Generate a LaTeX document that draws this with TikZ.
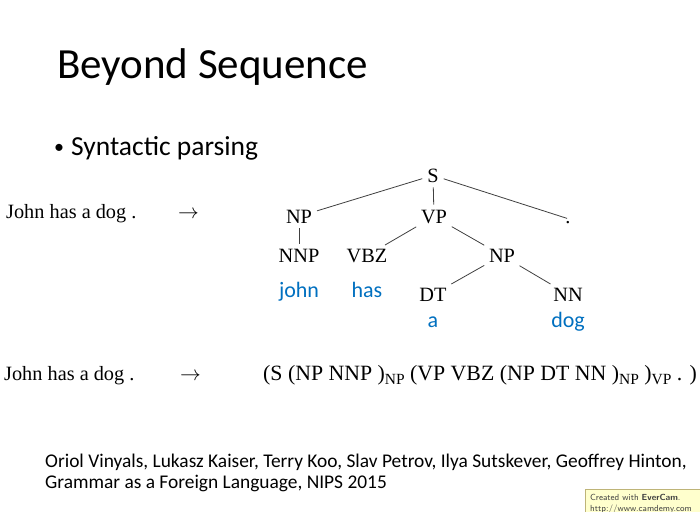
\documentclass[tikz,border=0pt]{standalone}
\usepackage{fontspec}
\setmainfont{Liberation Serif}
\newfontfamily\slidefont{Carlito}
\definecolor{wordblue}{RGB}{0,112,192}
\definecolor{notefill}{RGB}{255,255,205}
\definecolor{noteline}{RGB}{190,180,120}
\newcommand{\subtag}[1]{\raisebox{-0.22em}{\fontsize{15.5}{16}\selectfont #1}}
\begin{document}
\begin{tikzpicture}[x=1pt,y=-1pt,
  tag/.style={font=\fontsize{20.3}{22}\selectfont, anchor=base, inner sep=2pt},
  word/.style={font=\slidefont\fontsize{22}{24}\selectfont, text=wordblue, anchor=base, inner sep=1pt},
  edge/.style={draw=black!75, line width=0.8pt, shorten <=3pt, shorten >=3pt},
  serif/.style={font=\fontsize{20.3}{22}\selectfont, anchor=base west, inner sep=0pt},
  cite/.style={font=\slidefont\fontsize{19.4}{21}\selectfont, anchor=base west, inner sep=0pt}]
\useasboundingbox (0,0) rectangle (700,511);
\clip (0,0) rectangle (700,511);
\fill[white] (0,0) rectangle (700,511);
% title
\node[anchor=base west, inner sep=0pt, font=\slidefont\fontsize{43}{48}\selectfont] (title) at (57,78) {Beyond Sequence};
\node[anchor=base west, inner sep=0pt, font=\slidefont\fontsize{27.5}{30}\selectfont] (bullet) at (54,155) {{\fontsize{20}{22}\selectfont\raisebox{0.08em}{•}}\hspace{7pt}Syntactic parsing};
% first row
\node[serif] (in1) at (6,218) {John has a dog .};
\node[serif] (arr1) at (178,218) {$\rightarrow$};
% tree
\node[tag] (S) at (433,182) {S};
\node[tag] (NP) at (299,223) {NP};
\node[tag] (VP) at (434,223) {VP};
\node[tag] (dot) at (568,223) {.};
\node[tag] (NNP) at (299,262) {NNP};
\node[tag] (VBZ) at (367,262) {VBZ};
\node[tag] (NPb) at (502,262) {NP};
\node[tag] (DT) at (433,301) {DT};
\node[tag] (NN) at (568,301) {NN};
\node[word] (john) at (299,297) {john};
\node[word] (has) at (367,297) {has};
\node[word] (a) at (433,327) {a};
\node[word] (dog) at (568,327) {dog};
\draw[edge] (S) -- (NP);
\draw[edge] (S) -- (VP);
\draw[edge, shorten >=1pt] (S) -- (dot.north);
\draw[edge] (NP) -- (NNP);
\draw[edge] (VP) -- (VBZ);
\draw[edge] (VP) -- (NPb);
\draw[edge] (NPb) -- (DT);
\draw[edge] (NPb) -- (NN);
% second row
\node[serif] (in2) at (4,380) {John has a dog .};
\node[serif] (arr2) at (180,380) {$\rightarrow$};
\node[serif, font=\fontsize{21.8}{23}\selectfont] (seq) at (263,380) {(S (NP NNP )\subtag{NP} (VP VBZ (NP DT NN )\subtag{NP} )\subtag{VP} . )};
% citation
\node[cite] (cite1) at (45,467) {Oriol Vinyals, Lukasz Kaiser, Terry Koo, Slav Petrov, Ilya Sutskever, Geoffrey Hinton,};
\node[cite] (cite2) at (45,488) {Grammar as a Foreign Language, NIPS 2015};
% watermark
\draw[fill=notefill, draw=noteline, line width=0.8pt] (585,489) rectangle (705,520);
\node[anchor=base west, inner sep=0pt, font=\sffamily\fontsize{8.8}{10}\selectfont, text=black!75] (ever1) at (590,500) {Created with \textbf{EverCam}.};
\node[anchor=base west, inner sep=0pt, font=\sffamily\fontsize{8.8}{10}\selectfont, text=black!75] (ever2) at (590,511) {http://www.camdemy.com};
\end{tikzpicture}
\end{document}
